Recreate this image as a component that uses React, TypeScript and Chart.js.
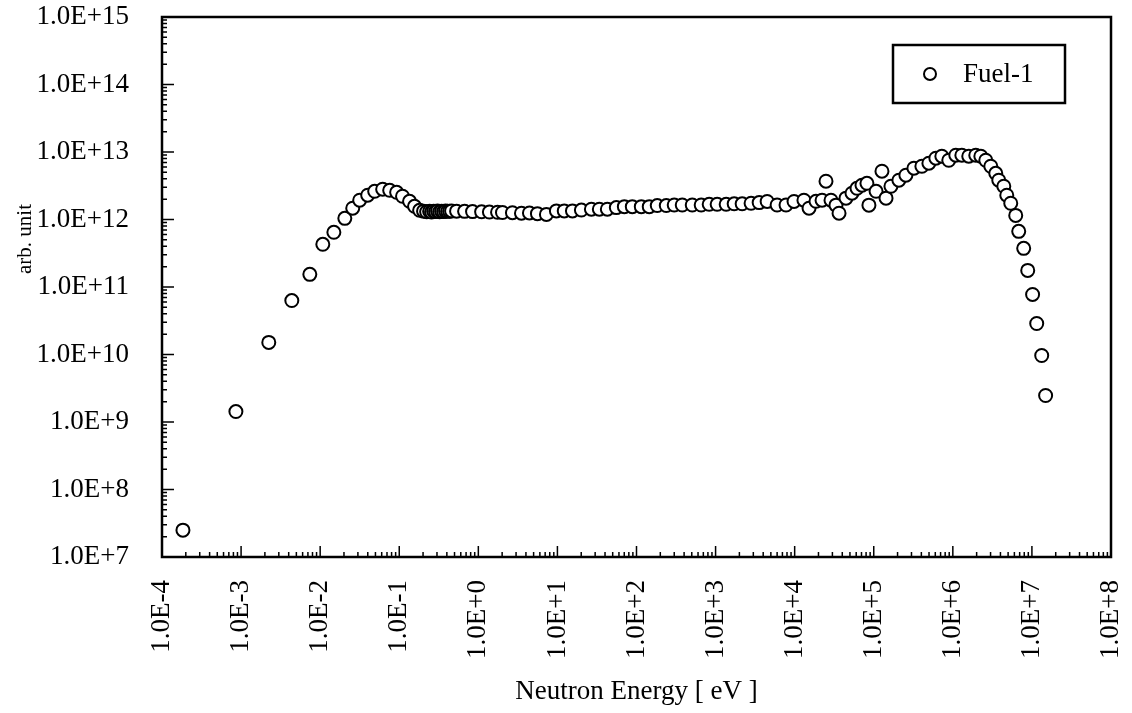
import React, { useEffect, useRef } from "react";
import { Chart, registerables } from "chart.js";

Chart.register(...registerables);

// ---- data ----
const seriesLabel = "Fuel-1";
const xTitle = "Neutron Energy [ eV ]";
const yTitle = "arb. unit";

// Neutron energy (eV)
const energy = [
  1.84e-4, 8.6e-4, 2.24e-3, 4.38e-3, 7.4e-3, 1.08e-2, 1.49e-2, 2.05e-2, 2.58e-2, 3.16e-2,
  3.99e-2, 4.89e-2, 6.17e-2, 7.57e-2, 9.27e-2, 0.11, 0.135, 0.156, 0.181,
  0.203, 0.222, 0.242, 0.256, 0.272, 0.288, 0.305, 0.324, 0.343, 0.364, 0.385, 0.408, 0.433, 0.459,
  0.531, 0.67, 0.845, 1.1, 1.38, 1.75,
  2.02, 2.7, 3.51, 4.43, 5.59, 7.26, 9.71, 12.2, 15.5, 20.1, 26.9, 33.9, 42.8, 55.6, 70.2, 88.5,
  115, 145, 183, 238, 300, 379, 507, 658, 830, 1047, 1361, 1718, 2168, 2812, 3556, 4487, 5998,
  7780, 9817,
  1.31e4, 1.52e4, 1.86e4, 2.22e4, 2.49e4, 2.88e4, 3.33e4, 3.64e4, 4.46e4, 5.31e4, 6.14e4, 7.1e4,
  8.2e4, 8.69e4, 1.07e5, 1.27e5, 1.43e5, 1.65e5, 2.08e5, 2.55e5, 3.22e5, 4.06e5, 4.98e5, 6.1e5,
  7.26e5, 8.89e5, 1.09e6, 1.3e6, 1.59e6, 1.95e6, 2.26e6, 2.61e6, 3.02e6, 3.49e6, 3.81e6, 4.41e6,
  4.81e6, 5.4e6, 6.24e6, 6.81e6, 7.87e6, 8.85e6, 1.02e7, 1.15e7, 1.33e7, 1.49e7,
];

// Flux (arb. unit)
const flux = [
  2.5e7, 1.43e9, 1.51e10, 6.3e10, 1.54e11, 4.29e11, 6.46e11, 1.04e12, 1.47e12, 1.93e12,
  2.29e12, 2.62e12, 2.81e12, 2.71e12, 2.53e12, 2.21e12, 1.86e12, 1.57e12, 1.37e12,
  1.33e12, 1.3e12, 1.32e12, 1.29e12, 1.33e12, 1.31e12, 1.34e12, 1.3e12, 1.33e12, 1.31e12, 1.34e12, 1.32e12, 1.33e12, 1.34e12,
  1.33e12, 1.32e12, 1.31e12, 1.3e12, 1.29e12, 1.28e12,
  1.27e12, 1.26e12, 1.24e12, 1.25e12, 1.22e12, 1.19e12, 1.34e12, 1.34e12, 1.34e12, 1.38e12, 1.42e12, 1.42e12, 1.42e12, 1.5e12, 1.55e12, 1.55e12,
  1.55e12, 1.55e12, 1.61e12, 1.61e12, 1.64e12, 1.64e12, 1.64e12, 1.64e12, 1.68e12, 1.68e12, 1.68e12, 1.71e12, 1.71e12, 1.74e12, 1.78e12, 1.85e12, 1.64e12,
  1.64e12, 1.85e12,
  1.93e12, 1.47e12, 1.86e12, 1.93e12, 3.69e12, 1.93e12, 1.63e12, 1.24e12, 2.07e12, 2.45e12, 2.9e12, 3.22e12,
  3.44e12, 1.63e12, 2.62e12, 5.19e12, 2.07e12, 3.11e12, 3.82e12, 4.53e12, 5.75e12, 6.15e12, 6.82e12, 8.09e12,
  8.66e12, 7.55e12, 8.97e12, 8.97e12, 8.66e12, 8.97e12, 8.66e12, 7.55e12, 6.15e12, 4.84e12, 3.82e12, 3.11e12,
  2.29e12, 1.74e12, 1.15e12, 6.68e11, 3.74e11, 1.76e11, 7.76e10, 2.88e10, 9.66e9, 2.47e9,
];

const xTickValues = [1e-4, 1e-3, 1e-2, 1e-1, 1e0, 1e1, 1e2, 1e3, 1e4, 1e5, 1e6, 1e7, 1e8];
const xTickLabels = [
  "1.0E-4", "1.0E-3", "1.0E-2", "1.0E-1", "1.0E+0", "1.0E+1", "1.0E+2",
  "1.0E+3", "1.0E+4", "1.0E+5", "1.0E+6", "1.0E+7", "1.0E+8",
];
const yTickValues = [1e7, 1e8, 1e9, 1e10, 1e11, 1e12, 1e13, 1e14, 1e15];
const yTickLabels = [
  "1.0E+7", "1.0E+8", "1.0E+9", "1.0E+10", "1.0E+11", "1.0E+12", "1.0E+13", "1.0E+14", "1.0E+15",
];

const FONT = '"Liberation Serif", "Times New Roman", serif';

function decadeTicks(values: number[]) {
  const out: { value: number; major: boolean }[] = [];
  for (let i = 0; i < values.length; i++) {
    out.push({ value: values[i], major: true });
    if (i < values.length - 1) {
      for (let m = 2; m <= 9; m++) out.push({ value: values[i] * m, major: false });
    }
  }
  return out;
}

function labelFor(values: number[], labels: string[], v: number) {
  const i = values.findIndex((d) => Math.abs(d - v) / d < 1e-9);
  return i >= 0 ? labels[i] : "";
}

const framePlugin = {
  id: "frameAndLegend",
  afterDatasetsDraw(chart: any) {
    const { ctx, chartArea: a, scales } = chart;
    ctx.save();
    ctx.strokeStyle = "#000";
    ctx.lineWidth = 2.5;
    ctx.strokeRect(a.left, a.top, a.right - a.left, a.bottom - a.top);

    ctx.lineWidth = 1.5;
    ctx.beginPath();
    for (const t of scales.x.ticks) {
      const px = scales.x.getPixelForValue(t.value);
      const len = t.major ? 11 : 5;
      ctx.moveTo(px, a.bottom);
      ctx.lineTo(px, a.bottom - len);
    }
    for (const t of scales.y.ticks) {
      const py = scales.y.getPixelForValue(t.value);
      const len = t.major ? 12 : 5;
      ctx.moveTo(a.left, py);
      ctx.lineTo(a.left + len, py);
    }
    ctx.stroke();

    // y-axis title
    ctx.save();
    ctx.fillStyle = "#000";
    ctx.font = `21px ${FONT}`;
    ctx.textAlign = "center";
    ctx.textBaseline = "middle";
    ctx.translate(a.left - 137, a.top + 222);
    ctx.rotate(-Math.PI / 2);
    ctx.fillText(yTitle, 0, 0);
    ctx.restore();

    // legend box
    const bx = a.right - 218;
    const by = a.top + 28;
    const bw = 172;
    const bh = 58;
    ctx.fillStyle = "#fff";
    ctx.fillRect(bx, by, bw, bh);
    ctx.lineWidth = 2.5;
    ctx.strokeStyle = "#000";
    ctx.strokeRect(bx, by, bw, bh);
    ctx.lineWidth = 2;
    ctx.beginPath();
    ctx.arc(bx + 37, by + bh / 2, 6, 0, Math.PI * 2);
    ctx.stroke();
    ctx.fillStyle = "#000";
    ctx.font = `27px ${FONT}`;
    ctx.textAlign = "left";
    ctx.textBaseline = "middle";
    ctx.fillText(chart.data.datasets[0].label, bx + 70, by + bh / 2 + 1);
    ctx.restore();
  },
};

export default function App() {
  const ref = useRef<HTMLCanvasElement | null>(null);

  useEffect(() => {
    if (!ref.current) return;
    const points = energy.map((e, i) => ({ x: e, y: flux[i] }));
    const chart = new Chart(ref.current, {
      type: "scatter",
      data: {
        datasets: [
          {
            label: seriesLabel,
            data: points,
            pointStyle: "circle",
            pointRadius: 6.5,
            pointHoverRadius: 6.5,
            pointBorderWidth: 2,
            borderColor: "#000",
            backgroundColor: "#fff",
            showLine: false,
          },
        ],
      },
      options: {
        animation: false,
        responsive: true,
        maintainAspectRatio: false,
        layout: { padding: { top: 17, right: 21, left: 0, bottom: 0 } },
        plugins: {
          legend: { display: false },
          tooltip: { enabled: false },
        },
        scales: {
          x: {
            type: "logarithmic",
            min: 1e-4,
            max: 1e8,
            grid: { display: false },
            border: { display: false },
            afterBuildTicks: (scale: any) => {
              scale.ticks = decadeTicks(xTickValues);
            },
            afterFit: (scale: any) => {
              scale.height = 156;
              scale.paddingLeft = 0;
              scale.paddingRight = 0;
            },
            ticks: {
              autoSkip: false,
              minRotation: 90,
              maxRotation: 90,
              padding: 15,
              color: "#000",
              font: { family: FONT, size: 27 },
              callback: (v: any) => labelFor(xTickValues, xTickLabels, Number(v)),
            },
            title: {
              display: true,
              text: xTitle,
              color: "#000",
              font: { family: FONT, size: 27 },
              padding: { top: 4, bottom: 5 },
            },
          },
          y: {
            type: "logarithmic",
            min: 1e7,
            max: 1e15,
            grid: { display: false },
            border: { display: false },
            afterBuildTicks: (scale: any) => {
              scale.ticks = decadeTicks(yTickValues);
            },
            afterFit: (scale: any) => {
              scale.width = 162;
              scale.paddingTop = 0;
              scale.paddingBottom = 0;
            },
            ticks: {
              autoSkip: false,
              padding: 25,
              color: "#000",
              font: { family: FONT, size: 27 },
              callback: (v: any) => labelFor(yTickValues, yTickLabels, Number(v)),
            },
          },
        },
      },
      plugins: [framePlugin],
    });
    return () => chart.destroy();
  }, []);

  return (
    <div style={{ position: "fixed", left: 0, top: 0, width: 1132, height: 713, background: "#fff" }}>
      <canvas ref={ref} />
    </div>
  );
}
